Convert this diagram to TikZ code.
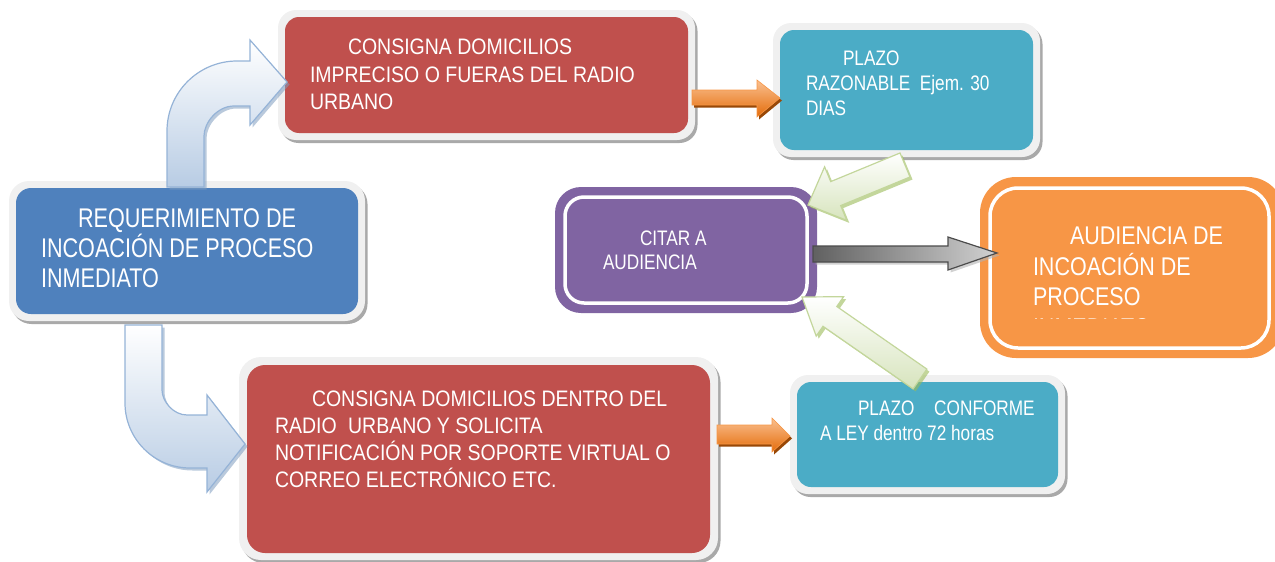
\documentclass[tikz,border=0pt]{standalone}
\usepackage{fontspec}
\setmainfont{Liberation Sans}
\newfontfamily\fA[FakeStretch=0.80]{Liberation Sans}
\newfontfamily\fB[FakeStretch=0.87]{Liberation Sans}
\newfontfamily\fC[FakeStretch=0.82]{Liberation Sans}
\newfontfamily\fD[FakeStretch=0.84]{Liberation Sans}
\definecolor{cblue}{HTML}{4F81BD}
\definecolor{cred}{HTML}{C0504D}
\definecolor{ccyan}{HTML}{4BACC6}
\definecolor{cpurple}{HTML}{8064A2}
\definecolor{corange}{HTML}{F79646}
\definecolor{framegray}{HTML}{F0F0F0}
\definecolor{shadowgray}{HTML}{A9A9A9}
\definecolor{lblue}{HTML}{B8CCE4}
\definecolor{blueline}{HTML}{95B3D7}
\definecolor{blueshadow}{HTML}{7F9DBF}
\definecolor{lgreen}{HTML}{D7E4BD}
\definecolor{greenline}{HTML}{C3D69B}
\definecolor{greenshadow}{HTML}{9BBB59}
\definecolor{oranglight}{HTML}{FAC090}
\definecolor{orangdark}{HTML}{E46C0A}
\definecolor{orangshadow}{HTML}{984807}
\begin{document}
\begin{tikzpicture}[x=1pt,y=-1pt,
  frm/.style={fill=framegray, rounded corners=#1,
     preaction={fill=shadowgray, transform canvas={shift={(2.5pt,-3pt)}}}},
  box/.style={rectangle, inner sep=0pt, outer sep=0pt, draw=none},
  txt/.style={anchor=base west, inner sep=0pt, outer sep=0pt, text=white},
  bluearrow/.style={top color=white, bottom color=lblue, draw=blueline, line width=1.2pt,
     preaction={fill=blueshadow, opacity=.55, transform canvas={shift={(2.5pt,-2.5pt)}}}},
  greenarrow/.style={top color=white, bottom color=lgreen, draw=greenline, line width=1.2pt,
     preaction={fill=greenshadow, opacity=.6, transform canvas={shift={(2.5pt,-2.5pt)}}}},
  orangearrow/.style={top color=oranglight, bottom color=orangdark, draw=corange, line width=.6pt,
     preaction={fill=orangshadow, transform canvas={shift={(2pt,-2.5pt)}}}},
  grayarrow/.style={left color=black!62, right color=black!18, draw=black!70, line width=1.2pt,
     preaction={fill=black!30, opacity=.6, transform canvas={shift={(2.5pt,-2.5pt)}}}}
]
\useasboundingbox (0,0) rectangle (1275,562);
\clip (0,0) rectangle (1275,562);

% ---- boxes ----
\fill[frm=20pt] (9,181) rectangle (365,321);
\node[box, fill=cblue, rounded corners=15pt, minimum width=342pt, minimum height=126pt] (req) at (187,251) {};

\fill[frm=18pt] (278,10) rectangle (695,140);
\node[box, fill=cred, rounded corners=14pt, minimum width=403pt, minimum height=116pt] (imp) at (486.5,75) {};

\fill[frm=18pt] (773,23) rectangle (1040,157);
\node[box, fill=ccyan, rounded corners=14pt, minimum width=253pt, minimum height=120pt] (raz) at (906.5,90) {};

\fill[frm=22pt] (239,357) rectangle (718,560);
\node[box, fill=cred, rounded corners=18pt, minimum width=463pt, minimum height=188pt] (den) at (478.5,459) {};

\fill[frm=18pt] (790,375) rectangle (1065,494);
\node[box, fill=ccyan, rounded corners=14pt, minimum width=261pt, minimum height=105pt] (ley) at (927.5,434.5) {};

\node[box, fill=cpurple, rounded corners=26pt, minimum width=262pt, minimum height=126pt] (cit) at (686,250) {};
\draw[white, line width=3.5pt, rounded corners=19pt] (565,197) rectangle (807,303);

\node[box, fill=corange, rounded corners=36pt, minimum width=304pt, minimum height=181pt] (aud) at (1132,267.5) {};
\draw[white, line width=3.5pt, rounded corners=28pt] (990,188) rectangle (1269,348);

% ---- texts ----
\node[txt, font=\fA\fontsize{27}{30}\selectfont] (treq) at (41,227.5)
  {\vtop{\hbox{\hspace*{37pt}REQUERIMIENTO DE}\hbox{INCOACIÓN DE PROCESO}\hbox{INMEDIATO}}};
\node[txt, font=\fB\fontsize{22.4}{27.5}\selectfont] (timp) at (310,54.5)
  {\vtop{\hbox{\hspace*{38pt}CONSIGNA DOMICILIOS}\hbox{IMPRECISO O FUERAS DEL RADIO}\hbox{URBANO}}};
\node[txt, font=\fC\fontsize{21}{25}\selectfont] (traz) at (806,65.5)
  {\vtop{\hbox{\hspace*{37pt}PLAZO}\hbox{RAZONABLE\ \ Ejem. 30}\hbox{DIAS}}};
\node[txt, font=\fB\fontsize{22.4}{27.3}\selectfont] (tden) at (275,406)
  {\vtop{\hbox{\hspace*{37pt}CONSIGNA DOMICILIOS DENTRO DEL}\hbox{RADIO\hspace*{6pt} URBANO Y SOLICITA}\hbox{NOTIFICACIÓN POR SOPORTE VIRTUAL O}\hbox{CORREO ELECTRÓNICO ETC.}}};
\node[txt, font=\fC\fontsize{21}{25}\selectfont] (tley) at (820,415)
  {\vtop{\hbox{\hspace*{38pt}PLAZO\hspace*{15pt} CONFORME}\hbox{A LEY dentro 72 horas}}};
\node[txt, font=\fC\fontsize{21}{24.5}\selectfont] (tcit) at (603,245)
  {\vtop{\hbox{\hspace*{37pt}CITAR A}\hbox{AUDIENCIA}}};
\begin{scope}
\clip (980,177) rectangle (1275,318.5);
\node[txt, font=\fD\fontsize{25.6}{30.5}\selectfont] (taud) at (1033,244.5)
  {\vtop{\hbox{\hspace*{37pt}AUDIENCIA DE}\hbox{INCOACIÓN DE}\hbox{PROCESO}\hbox{INMEDIATO}}};
\end{scope}

% ---- arrows ----
\path[bluearrow] (167,187) -- (167,131) .. controls (167,92.4) and (198.4,61) .. (237,61)
  -- (250,61) -- (250,40) -- (287,82) -- (250,125) -- (250,106) -- (234,106)
  .. controls (217.4,106) and (204,122.6) .. (204,136) -- (204,187) -- cycle;
\path[bluearrow] (125,325) -- (125,403) .. controls (125,438.9) and (154.1,468) .. (190,468)
  -- (207,468) -- (207,492) -- (245,444) -- (207,395) -- (207,415) -- (187,415)
  .. controls (173.2,415) and (162,401.2) .. (162,390) -- (162,325) -- cycle;

\path[orangearrow] (692,90) -- (757,90) -- (757,80) -- (780,98) -- (757,117) -- (757,105) -- (692,105) -- cycle;
\path[orangearrow] (717,425) -- (772,425) -- (772,418) -- (790,436) -- (772,452) -- (772,444) -- (717,444) -- cycle;

\path[grayarrow] (813,246) -- (948,246) -- (948,237) -- (997,253) -- (948,270) -- (948,262) -- (813,262) -- cycle;

\path[greenarrow] (900,153) -- (830.7,181.6) -- (824.6,166.8) -- (808,205) -- (846.8,220.4) -- (840.7,205.6) -- (910,177) -- cycle;
\path[greenarrow] (926.9,369.1) -- (836.8,306.5) -- (843.6,296.7) -- (802,297) -- (816.2,336.1) -- (823.0,326.3) -- (913.1,388.9) -- cycle;
\end{tikzpicture}
\end{document}
